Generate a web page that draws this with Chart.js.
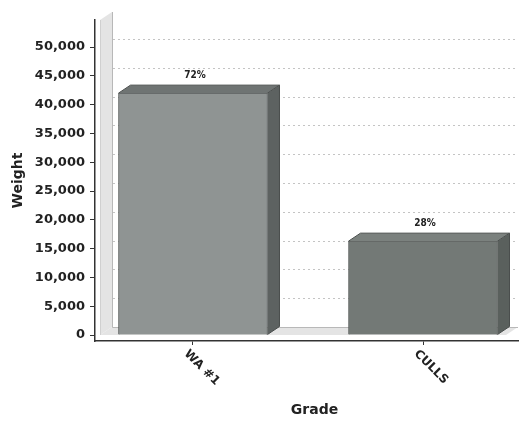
<!DOCTYPE html>
<html>
<head>
<meta charset="utf-8">
<script src="https://cdn.jsdelivr.net/npm/chart.js@4/dist/chart.umd.min.js"></script>
<style>
html,body{margin:0;padding:0;background:#fff;}
#wrap{width:529px;height:421px;}
</style>
</head>
<body>
<div id="wrap"><canvas id="c" width="529" height="421"></canvas></div>
<script>
// ---- data ----
const categories = ['WA #1', 'CULLS'];
const weights = [42000, 16300];
const yTicks = [0, 5000, 10000, 15000, 20000, 25000, 30000, 35000, 40000, 45000, 50000];
const xTitle = 'Grade';
const yTitle = 'Weight';

// ---- style ----
const DX = 12, DY = -8;
const frontColors = ['#8f9493', '#737976'];
const topColors = ['#6f7473', '#7b817e'];
const sideColors = ['#5d6261', '#5a605d'];
const FONT = "'DejaVu Sans', Verdana, sans-serif";

const total = weights.reduce((a, b) => a + b, 0);

const threeD = {
  id: 'threeD',
  beforeDatasetsDraw(chart) {
    const {ctx, chartArea: a, scales: {y}} = chart;
    const y0 = y.getPixelForValue(0);
    const fl = a.left + 5, fr = a.right - DX;
    ctx.save();
    ctx.fillStyle = '#e4e4e4';
    ctx.beginPath();
    ctx.moveTo(fl, y0); ctx.lineTo(fl, a.top); ctx.lineTo(fl + DX, a.top + DY); ctx.lineTo(fl + DX, y0 + DY);
    ctx.closePath(); ctx.fill();
    ctx.beginPath();
    ctx.moveTo(fl, y0); ctx.lineTo(fr, y0); ctx.lineTo(fr + DX, y0 + DY); ctx.lineTo(fl + DX, y0 + DY);
    ctx.closePath(); ctx.fill();
    ctx.strokeStyle = '#b8b8b8'; ctx.lineWidth = 1;
    ctx.beginPath();
    ctx.moveTo(fl + DX + 0.5, a.top + DY); ctx.lineTo(fl + DX + 0.5, y0 + DY + 0.5); ctx.lineTo(fr + DX, y0 + DY + 0.5);
    ctx.stroke();
    ctx.strokeStyle = '#d0d0d0';
    ctx.beginPath(); ctx.moveTo(fl + 0.5, a.top); ctx.lineTo(fl + 0.5, y0); ctx.stroke();
    ctx.setLineDash([2, 3]);
    ctx.strokeStyle = '#c4c4c4';
    y.ticks.forEach(t => {
      if (t.value <= 0) return;
      const py = Math.round(y.getPixelForValue(t.value) + DY) + 0.5;
      ctx.beginPath(); ctx.moveTo(fl + DX + 1, py); ctx.lineTo(a.right, py); ctx.stroke();
    });
    ctx.restore();
  },
  afterDatasetsDraw(chart) {
    const {ctx, chartArea: a, scales: {x}} = chart;
    const meta = chart.getDatasetMeta(0);
    ctx.save();
    meta.data.forEach((bar, i) => {
      const p = bar.getProps(['x', 'y', 'base', 'width'], true);
      const l = p.x - p.width / 2, r = p.x + p.width / 2, t = p.y, b = p.base;
      ctx.fillStyle = topColors[i];
      ctx.beginPath();
      ctx.moveTo(l, t); ctx.lineTo(l + DX, t + DY); ctx.lineTo(r + DX, t + DY); ctx.lineTo(r, t);
      ctx.closePath(); ctx.fill();
      ctx.fillStyle = sideColors[i];
      ctx.beginPath();
      ctx.moveTo(r, t); ctx.lineTo(r + DX, t + DY); ctx.lineTo(r + DX, b + DY); ctx.lineTo(r, b);
      ctx.closePath(); ctx.fill();
      ctx.strokeStyle = '#4a4e4d'; ctx.lineWidth = 1;
      ctx.beginPath();
      ctx.moveTo(l, t); ctx.lineTo(l + DX, t + DY); ctx.lineTo(r + DX, t + DY); ctx.lineTo(r + DX, b + DY); ctx.lineTo(r, b);
      ctx.moveTo(r, t); ctx.lineTo(r + DX, t + DY);
      ctx.stroke();
      const pct = Math.round(weights[i] / total * 100) + '%';
      ctx.fillStyle = '#222';
      ctx.font = "bold 10px 'DejaVu Sans Condensed', 'DejaVu Sans', sans-serif";
      ctx.textAlign = 'center'; ctx.textBaseline = 'middle';
      ctx.fillText(pct, p.x + 2, t + DY - 10);
    });
    categories.forEach((c, i) => {
      const px = x.getPixelForValue(i);
      ctx.save();
      ctx.translate(px - 7, 352);
      ctx.rotate(Math.PI / 4);
      ctx.font = 'bold 12px ' + FONT;
      ctx.fillStyle = '#222';
      ctx.textAlign = 'left'; ctx.textBaseline = 'middle';
      ctx.fillText(c, 0, 0);
      ctx.restore();
    });
    ctx.font = 'bold 14px ' + FONT;
    ctx.fillStyle = '#222';
    ctx.textAlign = 'center'; ctx.textBaseline = 'middle';
    ctx.fillText(xTitle, (a.left + a.right) / 2 + 8, 410);
    ctx.restore();
  }
};

new Chart(document.getElementById('c'), {
  type: 'bar',
  data: {
    labels: categories,
    datasets: [{
      data: weights.map((w, i) => ({x: i, y: w})),
      backgroundColor: frontColors,
      borderColor: '#575b5a',
      borderWidth: 1,
      barThickness: 149
    }]
  },
  options: {
    responsive: false,
    animation: false,
    events: [],
    layout: {padding: {top: 20, right: 11, left: 0, bottom: 0}},
    plugins: {legend: {display: false}, tooltip: {enabled: false}},
    scales: {
      x: {
        type: 'linear',
        offset: false,
        min: -0.426,
        max: 1.413,
        afterBuildTicks: s => { s.ticks = categories.map((c, i) => ({value: i})); },
        afterFit: s => { s.height = 80; },
        ticks: {display: false},
        grid: {offset: false, drawOnChartArea: false, drawTicks: true, tickLength: 4, color: '#333', lineWidth: 1},
        border: {display: true, color: '#333', width: 1.5},
        title: {display: false, text: xTitle}
      },
      y: {
        min: -1040,
        max: 54700,
        afterBuildTicks: s => { s.ticks = yTicks.map(v => ({value: v})); },
        afterFit: s => { s.width = 95; },
        ticks: {
          color: '#222',
          padding: 5,
          font: {family: FONT, size: 13, weight: 'bold'},
          callback: v => v.toLocaleString('en-US')
        },
        grid: {drawOnChartArea: false, drawTicks: true, tickLength: 5, color: '#333', lineWidth: 1},
        border: {display: true, color: '#333', width: 1.5},
        title: {display: true, text: yTitle, color: '#222', font: {family: FONT, size: 14, weight: 'bold'}, padding: {top: 10, bottom: 10}}
      }
    }
  },
  plugins: [threeD]
});
</script>
</body>
</html>
